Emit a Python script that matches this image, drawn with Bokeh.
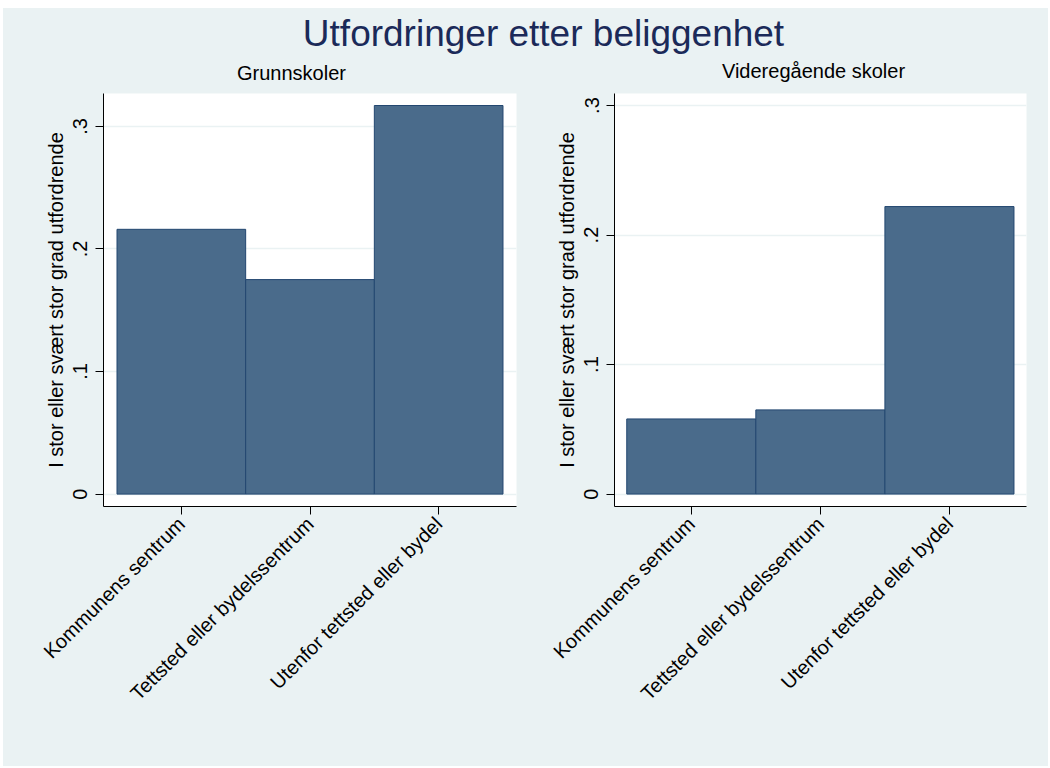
from bokeh.plotting import figure
from bokeh.models import Range1d, FixedTicker, Label, ColumnDataSource
from bokeh.layouts import column, row
from bokeh.embed import file_html
from bokeh.resources import INLINE

# ---- data ----
categories = ["Kommunens sentrum", "Tettsted eller bydelssentrum", "Utenfor tettsted eller bydel"]
grunnskoler = [0.216, 0.175, 0.317]
videregaende = [0.058, 0.065, 0.222]
y_ticks = [0, 0.1, 0.2, 0.3]
y_tick_labels = ["0", ".1", ".2", ".3"]
main_title = "Utfordringer etter beliggenhet"
panel_titles = ["Grunnskoler", "Videregående skoler"]
y_label = "I stor eller svært stor grad utfordrende"

BG = "#EAF2F3"
BAR_FILL = "#4A6B8B"
BAR_LINE = "#234770"
FONT = "Liberation Sans"

x_pos = [i + 1 for i in range(len(categories))]

HEAD_H = 85
PANEL_H = 673


def make_panel(values, y_range, x_range, width, border_left, border_right):
    p = figure(width=width, height=PANEL_H, toolbar_location=None, output_backend="svg",
               x_range=x_range, y_range=y_range,
               min_border_left=border_left, min_border_right=border_right,
               min_border_top=0, min_border_bottom=PANEL_H - 413)
    p.background_fill_color = "white"
    p.border_fill_color = BG
    p.outline_line_color = None

    src = ColumnDataSource(dict(x=x_pos, top=values))
    p.vbar(x="x", top="top", bottom=0, width=1.0, source=src,
           fill_color=BAR_FILL, line_color=BAR_LINE, line_width=1)

    # x axis
    p.xaxis.ticker = FixedTicker(ticks=x_pos)
    p.xaxis.major_label_overrides = {x: c for x, c in zip(x_pos, categories)}
    p.xaxis.major_label_orientation = 0.785398
    p.xaxis.major_label_text_font = FONT
    p.xaxis.major_label_text_font_size = "20px"
    p.xaxis.major_label_text_color = "black"
    p.xaxis.major_tick_out = 8
    p.xaxis.major_tick_in = 0
    p.xaxis.minor_tick_line_color = None
    p.xaxis.axis_line_color = "black"
    p.xaxis.major_tick_line_color = "black"
    p.xaxis.major_label_standoff = 6

    # y axis
    p.yaxis.ticker = FixedTicker(ticks=y_ticks)
    p.yaxis.major_label_overrides = {t: l for t, l in zip(y_ticks, y_tick_labels)}
    p.yaxis.major_label_orientation = "vertical"
    p.yaxis.major_label_text_font = FONT
    p.yaxis.major_label_text_font_size = "20px"
    p.yaxis.major_label_text_color = "black"
    p.yaxis.major_tick_out = 8
    p.yaxis.major_tick_in = 0
    p.yaxis.minor_tick_line_color = None
    p.yaxis.axis_line_color = "black"
    p.yaxis.major_tick_line_color = "black"
    p.yaxis.major_label_standoff = 8
    p.yaxis.axis_label = y_label
    p.yaxis.axis_label_text_font = FONT
    p.yaxis.axis_label_text_font_size = "20px"
    p.yaxis.axis_label_text_font_style = "normal"
    p.yaxis.axis_label_text_color = "black"
    p.yaxis.axis_label_standoff = 4

    p.xgrid.grid_line_color = None
    p.ygrid.ticker = FixedTicker(ticks=y_ticks)
    p.ygrid.grid_line_color = BG
    p.ygrid.grid_line_width = 1.5
    return p


left = make_panel(grunnskoler, Range1d(-0.0101, 0.3268), Range1d(0.395, 3.605), 522, 100, 9)
right = make_panel(videregaende, Range1d(-0.0096, 0.3093), Range1d(0.405, 3.597), 523, 89, 22)

# header with main title and panel subtitles (data units = pixels of the header)
head = figure(width=1045, height=HEAD_H, toolbar_location=None, output_backend="svg",
              x_range=Range1d(0, 1045), y_range=Range1d(0, HEAD_H),
              x_axis_type=None, y_axis_type=None,
              min_border_left=0, min_border_right=0, min_border_top=0, min_border_bottom=0)
head.background_fill_color = BG
head.border_fill_color = BG
head.outline_line_color = None
head.xgrid.visible = False
head.ygrid.visible = False
head.add_layout(Label(x=540, y=HEAD_H - 25, text=main_title, text_font=FONT, text_font_size="37px",
                      text_color="#1B2A59", text_baseline="middle", text_align="center"))
head.add_layout(Label(x=288, y=HEAD_H - 64, text=panel_titles[0], text_font=FONT, text_font_size="20px",
                      text_color="black", text_baseline="middle", text_align="center"))
head.add_layout(Label(x=810, y=HEAD_H - 62, text=panel_titles[1], text_font=FONT, text_font_size="20px",
                      text_color="black", text_baseline="middle", text_align="center"))

layout = column(head, row(left, right, spacing=0, styles={"background-color": BG}),
                spacing=0, margin=(8, 0, 0, 3), styles={"background-color": BG})

open("out.html", "w").write(file_html(layout, INLINE))
